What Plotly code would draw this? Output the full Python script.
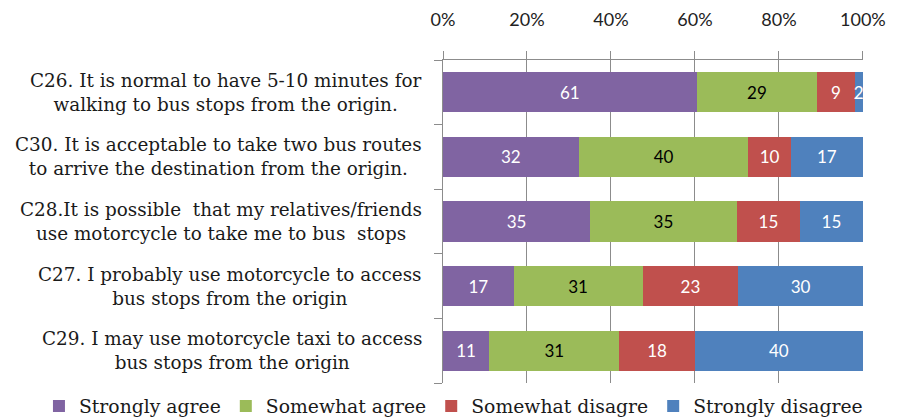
import plotly.graph_objects as go

categories = [
    "C26. It is normal to have 5-10 minutes for<br>walking to bus stops from the origin.",
    "C30. It is acceptable to take two bus routes<br>to arrive the destination from the origin.",
    "C28.It is possible  that my relatives/friends<br>use motorcycle to take me to bus  stops",
    "C27. I probably use motorcycle to access<br>bus stops from the origin",
    "C29. I may use motorcycle taxi to access<br>bus stops from the origin",
]
strongly_agree = [61, 32, 35, 17, 11]
somewhat_agree = [29, 40, 35, 31, 31]
somewhat_disagree = [9, 10, 15, 23, 18]
strongly_disagree = [2, 17, 15, 30, 40]
series_names = ["Strongly agree", "Somewhat agree", "Somewhat disagre", "Strongly disagree"]
x_ticks = [0, 20, 40, 60, 80, 100]

colors = ["#8064A2", "#9BBB59", "#C0504D", "#4F81BD"]
text_colors = ["white", "black", "white", "white"]
series = [strongly_agree, somewhat_agree, somewhat_disagree, strongly_disagree]

keys = [f"c{i}" for i in range(len(categories))]

fig = go.Figure()
for name, vals, col, tc in zip(series_names, series, colors, text_colors):
    fig.add_trace(go.Bar(
        y=keys, x=vals, name=name, orientation="h",
        marker=dict(color=col, line=dict(width=0)),
        text=[str(v) for v in vals], textposition="inside",
        insidetextanchor="middle", textangle=0,
        textfont=dict(family="Lato", size=17, color=tc),
        cliponaxis=False,
    ))

for k, label in zip(keys, categories):
    fig.add_annotation(
        x=-0.045, xref="paper", y=k, yref="y", text=label, showarrow=False,
        xanchor="right", yanchor="middle", align="center",
        font=dict(family="DejaVu Serif", size=18.4, color="#1a1a1a"),
    )

# page body adds an 8px offset, so the figure is sized to end at the window edge
fig.update_layout(
    width=890, height=412,
    barmode="stack", barnorm="percent", bargap=0.38,
    plot_bgcolor="white", paper_bgcolor="white",
    margin=dict(l=435, r=35, t=52, b=37, autoexpand=False),
    uniformtext=dict(minsize=8, mode="show"),
    showlegend=True,
    legend=dict(
        orientation="h", x=-0.962, xanchor="left", xref="paper",
        y=-0.013, yanchor="top",
        font=dict(family="DejaVu Serif", size=18.8, color="#1a1a1a"),
        itemwidth=30, traceorder="normal",
    ),
    xaxis=dict(
        side="top", range=[0, 100.02], tickvals=x_ticks,
        ticktext=[f"{v}%" for v in x_ticks],
        showgrid=True, gridcolor="#8c8c8c", gridwidth=1,
        showline=True, linecolor="#8c8c8c", linewidth=1,
        ticks="outside", ticklen=8, tickcolor="#8c8c8c",
        ticklabelstandoff=18,
        tickfont=dict(family="Lato", size=18, color="#222"),
        zeroline=False, fixedrange=True,
    ),
    yaxis=dict(
        type="category", categoryorder="array", categoryarray=keys[::-1],
        showticklabels=False, showline=True, linecolor="#8c8c8c", linewidth=1,
        ticks="outside", tickson="boundaries", ticklen=8, tickcolor="#8c8c8c",
        showgrid=False, zeroline=False,
    ),
)
fig.write_html("out.html")
